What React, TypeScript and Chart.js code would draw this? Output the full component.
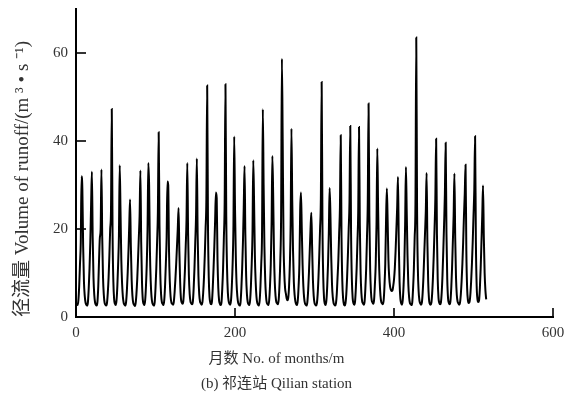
import React, { useEffect, useRef } from 'react';
import { Chart, registerables } from 'chart.js';

Chart.register(...registerables);

// Monthly runoff (m3/s), Qilian station, 43 years x 12 months
const runoff: number[] = [
  3.0, 2.7, 3.8, 7, 12, 17, 32, 29, 16, 8, 4.8, 3.3,
  2.8, 2.6, 3.4, 6.5, 11, 17, 25.6, 33, 18, 9, 5, 3.3,
  2.8, 2.6, 3.5, 7, 13, 18, 20, 33.5, 18, 9, 5, 3.2,
  2.8, 2.6, 3.2, 5.5, 9, 14, 20, 24, 47.3, 19, 8, 4,
  3.0, 2.7, 3.8, 7, 12, 18.5, 34.5, 24, 13, 7.5, 4.5, 3.2,
  2.8, 2.6, 3.4, 6, 10, 15, 21, 26.7, 16, 8.5, 4.8, 3.2,
  2.8, 2.5, 3.1, 5.2, 8.5, 13, 18, 23, 33.3, 17, 8, 4,
  3.0, 2.7, 3.8, 7, 12, 20, 35, 29.7, 15, 8, 4.6, 3.2,
  2.8, 2.6, 3.4, 6.5, 11, 17, 24, 42, 21, 10, 5.2, 3.4,
  3.0, 2.7, 3.8, 7, 12, 18, 30.8, 30, 15, 8, 4.6, 3.3,
  3.0, 2.8, 3.4, 5.5, 8.5, 12, 16, 20, 24.8, 15, 8, 4.2,
  3.3, 3.0, 3.6, 6.5, 10.5, 16, 22, 35, 19, 9.5, 5.2, 3.5,
  3.1, 2.9, 3.5, 6.5, 11, 17, 23, 36, 19, 9.5, 5.2, 3.5,
  3.1, 2.8, 3.3, 5.5, 9, 14, 20, 27, 52.6, 21, 9, 4.5,
  3.2, 2.9, 3.5, 6.5, 11, 16, 22, 28.3, 27, 13, 6.5, 3.7,
  3.0, 2.7, 3.3, 6.5, 11, 18, 26, 52.9, 23, 11, 5.6, 3.6,
  3.0, 2.8, 3.8, 7, 12, 20, 41, 25, 14, 7.5, 4.6, 3.2,
  2.8, 2.6, 3.4, 6.5, 11, 17, 25, 34.3, 19, 9.5, 5.2, 3.4,
  2.9, 2.7, 3.8, 7, 12, 19, 35.6, 26, 14, 8, 4.6, 3.2,
  2.8, 2.6, 3.7, 7, 12, 19, 47.2, 30, 16, 8.5, 4.8, 3.2,
  2.9, 2.7, 3.8, 7, 12, 21, 36.6, 28, 15, 8, 4.8, 3.4,
  3.1, 2.9, 4.0, 7.5, 13, 23, 58.7, 39.8, 18, 10, 6.5, 5.3,
  4.2, 3.8, 4.4, 7, 12, 21, 42.8, 26.5, 15, 8, 5, 3.5,
  2.9, 2.7, 3.8, 7, 12, 24.4, 28.3, 20, 12, 7, 4.3, 3.1,
  2.8, 2.6, 3.4, 6, 10, 15, 20, 23.7, 16, 8.5, 4.8, 3.2,
  2.8, 2.6, 3.1, 5.2, 9, 14, 20, 27, 53.4, 21, 9, 4.3,
  3.0, 2.7, 3.8, 7, 12, 19, 29.3, 23.6, 14, 7.5, 4.5, 3.2,
  2.8, 2.6, 3.1, 5.2, 9, 13, 19, 25, 41.3, 18, 8, 4.2,
  2.9, 2.6, 3.1, 5.2, 9, 14, 20, 26, 43.4, 19, 8.5, 4.3,
  3.1, 2.8, 3.5, 6.5, 11, 17, 24, 43.2, 21, 10, 5.4, 3.5,
  3.1, 2.8, 3.5, 6.5, 11, 18, 26, 48.5, 23, 11, 5.8, 3.7,
  3.3, 3.0, 4.0, 7.5, 12, 21, 38.3, 25, 14, 8, 4.8, 3.4,
  3.1, 2.9, 3.8, 7, 12, 22, 29.2, 22, 13, 9, 7, 6.2,
  5.9, 6.0, 7, 8.5, 11, 15, 20, 25, 31.8, 17, 8, 4.2,
  3.1, 2.8, 3.8, 7, 12, 21, 34.1, 24, 14, 7.5, 4.5, 3.2,
  2.9, 2.7, 3.4, 6.5, 11, 18, 26, 63.5, 25, 11, 5.8, 3.7,
  3.1, 2.8, 3.2, 5.3, 9, 14, 19, 24, 32.7, 17, 8, 4.1,
  3.0, 2.8, 3.2, 5.3, 9, 14, 20, 27, 40.5, 19, 8.5, 4.3,
  3.2, 2.9, 3.3, 5.5, 9.5, 15, 21, 28, 39.6, 19, 8.5, 4.2,
  3.2, 2.9, 3.6, 6.5, 11, 17, 23, 32.6, 18, 9, 5, 3.5,
  3.1, 2.8, 3.2, 5, 8, 12, 17, 23, 28, 34.6, 15, 6.5,
  3.8, 3.2, 3.4, 5, 8, 12, 17, 23, 29, 41.1, 17, 7,
  4.0, 3.4, 3.8, 6.5, 11, 17, 23, 29.9, 18, 10, 6, 4.0,
];

const months: number[] = runoff.map((_, i) => i + 1);

const xTickValues = [0, 200, 400, 600];
const yTickValues = [0, 20, 40, 60];

const xTitle = '月数 No. of months/m';
const caption = '(b) 祁连站 Qilian station';
const yTitle = '径流量 Volume of runoff/(m ³ • s ⁻¹)';

const FONT = "'Liberation Serif', 'Times New Roman', 'Noto Sans CJK SC', serif";
const TEXT = '#333';

const innerTicks = {
  id: 'innerTicks',
  afterDraw(chart: any) {
    const { ctx, chartArea, scales } = chart;
    ctx.save();
    ctx.strokeStyle = '#000';
    ctx.lineWidth = 1.6;
    scales.x.ticks.forEach((t: any) => {
      const px = scales.x.getPixelForValue(t.value);
      ctx.beginPath();
      ctx.moveTo(px, chartArea.bottom);
      ctx.lineTo(px, chartArea.bottom - 9);
      ctx.stroke();
    });
    scales.y.ticks.forEach((t: any) => {
      const py = scales.y.getPixelForValue(t.value);
      ctx.beginPath();
      ctx.moveTo(chartArea.left, py);
      ctx.lineTo(chartArea.left + 10, py);
      ctx.stroke();
    });
    ctx.restore();
  },
};

export default function App() {
  const ref = useRef<HTMLCanvasElement | null>(null);

  useEffect(() => {
    if (!ref.current) return;
    const chart = new Chart(ref.current, {
      type: 'line',
      data: {
        datasets: [
          {
            data: runoff.map((v, i) => ({ x: months[i], y: v })),
            borderColor: '#000',
            borderWidth: 2,
            pointRadius: 0,
            cubicInterpolationMode: 'monotone',
            fill: false,
          },
        ],
      },
      options: {
        responsive: false,
        animation: false,
        layout: { padding: { left: 0, right: 27, top: 9, bottom: 0 } },
        plugins: {
          legend: { display: false },
          tooltip: { enabled: false },
          subtitle: {
            display: true,
            position: 'bottom',
            text: xTitle,
            color: TEXT,
            font: { family: FONT, size: 15, lineHeight: 1.2, weight: 'normal' },
            padding: { top: 6, bottom: 3 },
          },
          title: {
            display: true,
            position: 'bottom',
            text: caption,
            color: TEXT,
            font: { family: FONT, size: 15, lineHeight: 1.2, weight: 'normal' },
            padding: { top: 4, bottom: 3 },
          },
        },
        scales: {
          x: {
            type: 'linear',
            min: 0,
            max: 600,
            afterBuildTicks: (s: any) => {
              s.ticks = xTickValues.map((v) => ({ value: v }));
            },
            afterFit: (s: any) => {
              s.height = 27;
            },
            grid: { display: false, drawTicks: false },
            border: { display: true, color: '#000', width: 2 },
            ticks: {
              padding: 7,
              color: TEXT,
              font: { family: FONT, size: 15 },
              maxRotation: 0,
            },
          },
          y: {
            type: 'linear',
            min: 0,
            max: 70,
            afterBuildTicks: (s: any) => {
              s.ticks = yTickValues.map((v) => ({ value: v }));
            },
            afterFit: (s: any) => {
              s.width = 76;
              s.paddingTop = 0;
              s.paddingBottom = 0;
            },
            grid: { display: false, drawTicks: false },
            border: { display: true, color: '#000', width: 2 },
            ticks: {
              padding: 8,
              color: TEXT,
              font: { family: FONT, size: 15 },
            },
            title: {
              display: true,
              text: yTitle,
              align: 'start',
              color: TEXT,
              font: { family: FONT, size: 19, lineHeight: 1.2 },
              padding: { top: 12, bottom: 0 },
            },
          },
        },
      },
      plugins: [innerTicks],
    } as any);
    return () => chart.destroy();
  }, []);

  return (
    <div style={{ position: 'fixed', left: 0, top: 0, width: 580, height: 396, background: '#fff' }}>
      <canvas ref={ref} width={580} height={396} />
    </div>
  );
}
